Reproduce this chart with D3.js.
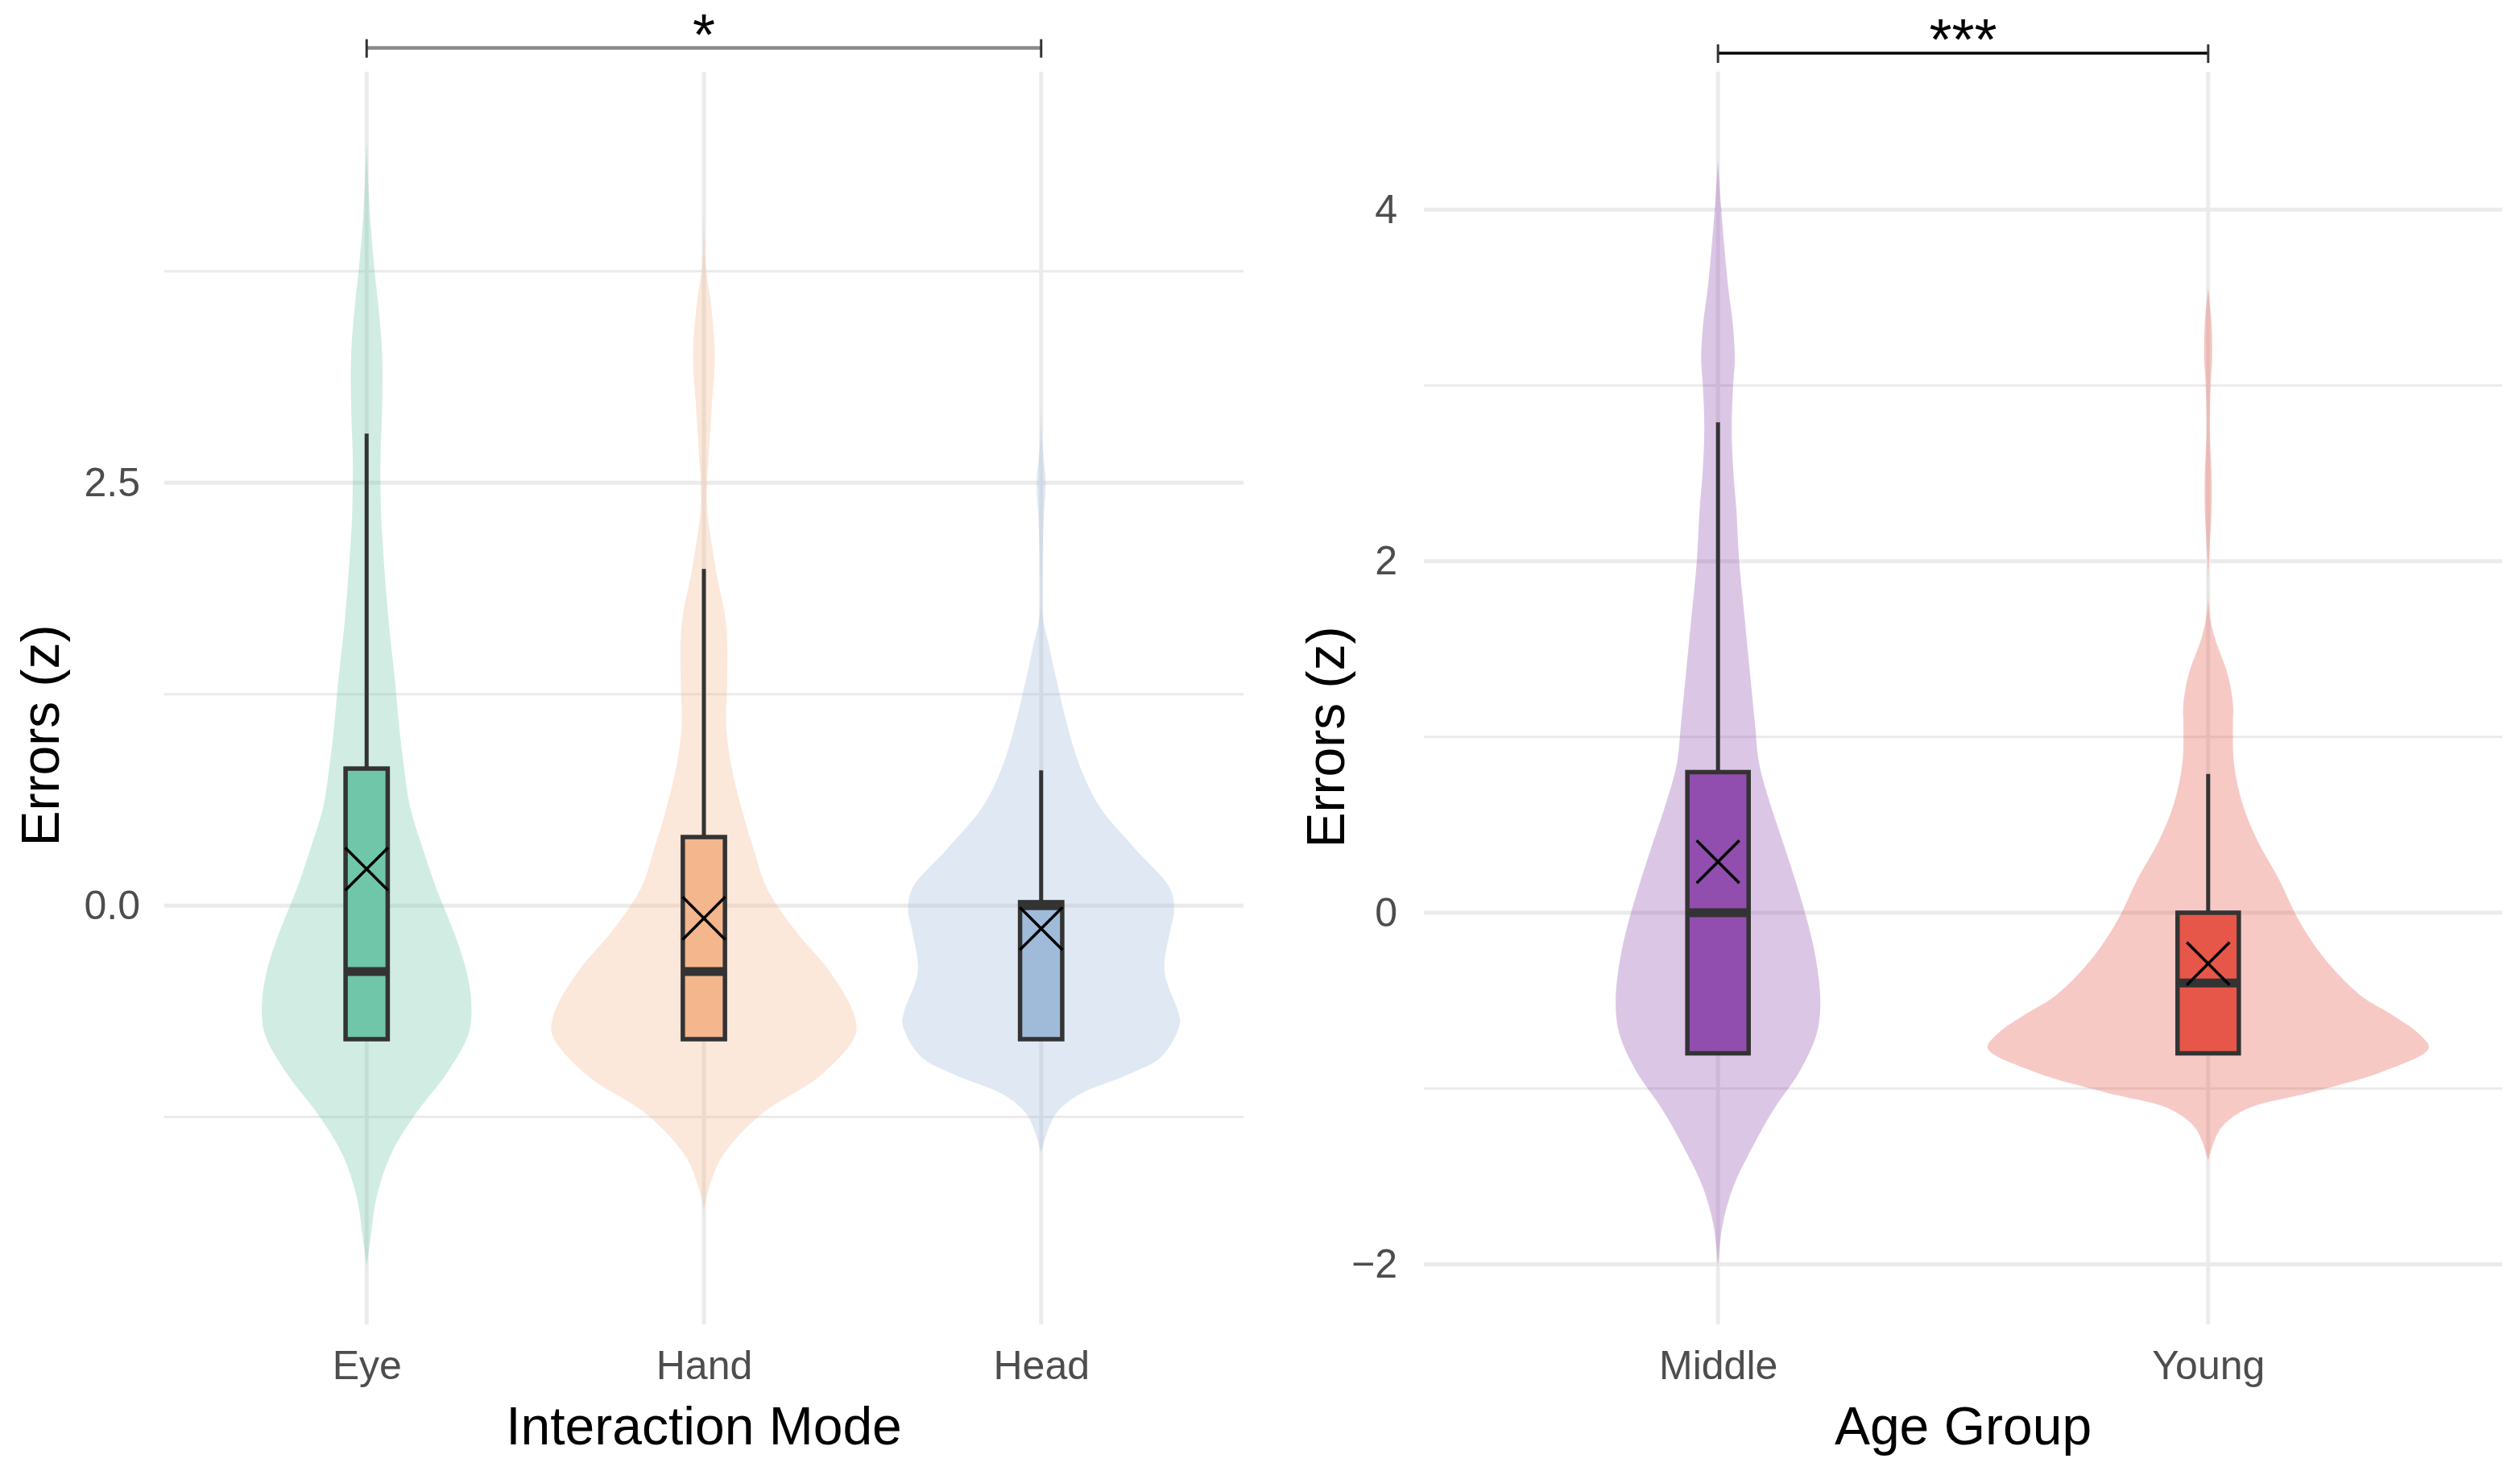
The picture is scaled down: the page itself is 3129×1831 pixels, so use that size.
<!DOCTYPE html>
<html>
<head>
<meta charset="utf-8">
<script src="https://cdn.jsdelivr.net/npm/d3@7"></script>
<style>
  html, body { margin: 0; padding: 0; background: #ffffff; }
  svg { display: block; font-family: "Liberation Sans", Arial, sans-serif; }
</style>
</head>
<body>
<svg id="chart" width="3129" height="1831"></svg>
<script>
// ---------------- DATA ----------------
const modes = ["Eye", "Hand", "Head"];
const modeColors = ["#70C6A8", "#F3B68D", "#A0BBDA"];
const modeQ1 = [-0.79, -0.79, -0.79];
const modeMedian = [-0.39, -0.39, 0.0];
const modeQ3 = [0.81, 0.405, 0.02];
const modeWhiskerLow = [-0.79, -0.79, -0.79];
const modeWhiskerHigh = [2.79, 1.99, 0.80];
const modeMean = [0.216, -0.075, -0.136];

// violin outlines: [value, relative density]
const eyeDensity = [[4.51,0],[4.10,.021],[3.75,.053],[3.57,.075],[3.26,.102],[2.94,.102],[2.62,.091],[2.30,.096],[1.98,.118],[1.66,.147],[1.33,.187],[1.06,.214],[0.82,.246],[0.58,.287],[0.34,.369],[0.10,.460],[-0.15,.572],[-0.39,.658],[-0.58,.690],[-0.76,.671],[-1.0,.521],[-1.24,.316],[-1.48,.155],[-1.73,.064],[-1.97,.025],[-2.13,0]];
const handDensity = [[4.08,0],[3.78,.012],[3.57,.045],[3.26,.072],[2.94,.051],[2.62,.029],[2.5,.021],[2.34,.021],[2.20,.041],[1.98,.080],[1.66,.147],[1.33,.153],[1.06,.147],[0.82,.182],[0.58,.246],[0.34,.326],[0.10,.417],[-0.15,.604],[-0.39,.829],[-0.63,.984],[-0.76,1.0],[-1.0,.775],[-1.24,.369],[-1.48,.123],[-1.65,.041],[-1.80,0]];
const headDensity = [[2.94,0],[2.72,.008],[2.5,.030],[2.30,.018],[1.98,.008],[1.71,.011],[1.54,.051],[1.33,.102],[1.06,.174],[0.82,.257],[0.58,.389],[0.34,.615],[0.10,.850],[-0.03,.877],[-0.15,.850],[-0.39,.813],[-0.63,.904],[-0.70,.914],[-0.89,.797],[-1.0,.572],[-1.12,.246],[-1.24,.091],[-1.46,0]];

const ages = ["Middle", "Young"];
const ageColors = ["#914EAE", "#E6574A"];
const ageQ1 = [-0.80, -0.80];
const ageMedian = [0.0, -0.40];
const ageQ3 = [0.80, 0.0];
const ageWhiskerLow = [-0.80, -0.80];
const ageWhiskerHigh = [2.79, 0.79];
const ageMean = [0.29, -0.29];

const middleDensity = [[4.28,0],[4.0,.015],[3.80,.028],[3.57,.045],[3.34,.068],[3.15,.076],[2.99,.068],[2.75,.062],[2.52,.069],[2.28,.084],[2.0,.096],[1.70,.119],[1.35,.146],[1.07,.168],[0.85,.186],[0.63,.234],[0.41,.292],[0.19,.349],[-0.03,.401],[-0.25,.442],[-0.51,.464],[-0.69,.447],[-0.905,.369],[-1.12,.252],[-1.34,.153],[-1.56,.069],[-1.78,.020],[-2.02,0]];
const youngDensity = [[3.55,0],[3.34,.016],[3.15,.018],[3.0,.011],[2.75,.007],[2.47,.016],[2.28,.015],[2.05,.005],[1.93,.001],[1.73,.004],[1.58,.026],[1.35,.090],[1.18,.113],[1.07,.112],[0.85,.117],[0.63,.153],[0.41,.223],[0.19,.321],[-0.03,.405],[-0.25,.520],[-0.47,.690],[-0.58,.832],[-0.69,.956],[-0.77,1.0],[-0.905,.788],[-1.02,.474],[-1.12,.168],[-1.23,.055],[-1.41,0]];

// axis ticks
const leftMajorTicks = [0, 2.5];
const leftTickLabels = ["0.0", "2.5"];
const leftMinorTicks = [-1.25, 1.25, 3.75];
const rightMajorTicks = [-2, 0, 2, 4];
const rightTickLabels = ["\u22122", "0", "2", "4"];
const rightMinorTicks = [-1, 1, 3];

// significance annotations
const leftSig = { from: "Eye", to: "Head", label: "*", y: 5.07 };
const rightSig = { from: "Middle", to: "Young", label: "***", y: 4.89 };

// ---------------- DRAW ----------------
const svg = d3.select("#chart");
svg.append("rect").attr("width", 3129).attr("height", 1831).attr("fill", "#ffffff");

const panelTop = 89, panelBottom = 1644;

function drawPanel(o) {
  const x = d3.scalePoint().domain(o.cats).range([o.x0, o.x1]).padding(0.6);
  const y = d3.scaleLinear().domain(o.ydom).range([panelBottom, panelTop]);
  const step = x.step();
  const w = d3.scaleLinear().domain([0, 1]).range([0, 0.45 * step]);
  const boxHalf = 0.0625 * step;
  const g = svg.append("g");

  // grid
  g.selectAll(".gminor").data(o.minor).join("line")
    .attr("x1", o.x0).attr("x2", o.x1)
    .attr("y1", d => y(d)).attr("y2", d => y(d))
    .attr("stroke", "#ebebeb").attr("stroke-width", 3);
  g.selectAll(".gmajor").data(o.major).join("line")
    .attr("x1", o.x0).attr("x2", o.x1)
    .attr("y1", d => y(d)).attr("y2", d => y(d))
    .attr("stroke", "#ebebeb").attr("stroke-width", 5);
  g.selectAll(".gvert").data(o.cats).join("line")
    .attr("x1", d => x(d)).attr("x2", d => x(d))
    .attr("y1", panelTop).attr("y2", panelBottom)
    .attr("stroke", "#ebebeb").attr("stroke-width", 5);

  // y axis
  const ya = g.append("g").attr("transform", `translate(${o.x0},0)`)
    .call(d3.axisLeft(y).tickValues(o.major).tickFormat((d, i) => o.labels[i]).tickSize(0).tickPadding(o.ypad));
  ya.select(".domain").remove();
  ya.selectAll("text").attr("font-size", 50).attr("fill", "#4d4d4d")
    .attr("font-family", "Liberation Sans, Arial, sans-serif");

  // x axis
  const xa = g.append("g").attr("transform", `translate(0,${panelBottom})`)
    .call(d3.axisBottom(x).tickSize(0).tickPadding(32));
  xa.select(".domain").remove();
  xa.selectAll("text").attr("font-size", 50).attr("fill", "#4d4d4d")
    .attr("font-family", "Liberation Sans, Arial, sans-serif");

  // violins
  o.cats.forEach((c, i) => {
    const cx = x(c);
    const area = d3.area()
      .y(d => y(d[0]))
      .x0(d => cx - w(d[1]))
      .x1(d => cx + w(d[1]))
      .curve(d3.curveCatmullRom.alpha(0.5));
    g.append("path").datum(o.dens[i]).attr("d", area)
      .attr("fill", o.colors[i]).attr("fill-opacity", 0.32).attr("stroke", "none");
  });

  // boxes
  o.cats.forEach((c, i) => {
    const cx = x(c);
    g.append("line").attr("x1", cx).attr("x2", cx)
      .attr("y1", y(o.q3[i])).attr("y2", y(o.wh[i]))
      .attr("stroke", "#333333").attr("stroke-width", 5);
    g.append("line").attr("x1", cx).attr("x2", cx)
      .attr("y1", y(o.q1[i])).attr("y2", y(o.wl[i]))
      .attr("stroke", "#333333").attr("stroke-width", 5);
    g.append("rect")
      .attr("x", cx - boxHalf).attr("width", 2 * boxHalf)
      .attr("y", y(o.q3[i])).attr("height", y(o.q1[i]) - y(o.q3[i]))
      .attr("fill", o.colors[i]).attr("stroke", "#333333").attr("stroke-width", 5.5);
    g.append("line")
      .attr("x1", cx - boxHalf).attr("x2", cx + boxHalf)
      .attr("y1", y(o.med[i])).attr("y2", y(o.med[i]))
      .attr("stroke", "#333333").attr("stroke-width", 11);
    g.append("path")
      .attr("transform", `translate(${cx},${y(o.mean[i])})`)
      .attr("d", d3.symbol().type(d3.symbolX).size(1840)())
      .attr("fill", "none").attr("stroke", "#000000").attr("stroke-width", 3.5);
  });

  // significance bar
  const s = o.sig;
  const sx1 = x(s.from), sx2 = x(s.to), sy = y(s.y);
  g.append("line").attr("x1", sx1).attr("x2", sx2).attr("y1", sy).attr("y2", sy)
    .attr("stroke", o.sigColor).attr("stroke-width", o.sigWidth);
  [sx1, sx2].forEach(px => {
    g.append("line").attr("x1", px).attr("x2", px).attr("y1", sy - 11).attr("y2", sy + 12)
      .attr("stroke", "#333333").attr("stroke-width", 3);
  });
  g.append("text").attr("x", (sx1 + sx2) / 2).attr("y", sy + o.starDy)
    .attr("text-anchor", "middle").attr("font-size", 72).attr("fill", "#000")
    .text(s.label);

  // titles
  g.append("text").attr("x", (o.x0 + o.x1) / 2).attr("y", 1793)
    .attr("text-anchor", "middle").attr("font-size", 66).attr("fill", "#000")
    .text(o.xtitle);
  g.append("text").attr("transform", `translate(${o.ytx},${o.yty}) rotate(-90)`)
    .attr("text-anchor", "middle").attr("font-size", 66).attr("fill", "#000")
    .text("Errors (z)");
}

drawPanel({
  cats: modes, x0: 204, x1: 1544, ydom: [-2.476, 4.93],
  major: leftMajorTicks, labels: leftTickLabels, minor: leftMinorTicks, ypad: 30,
  colors: modeColors, dens: [eyeDensity, handDensity, headDensity],
  q1: modeQ1, med: modeMedian, q3: modeQ3, wl: modeWhiskerLow, wh: modeWhiskerHigh, mean: modeMean,
  sig: leftSig, sigColor: "#8a8a8a", sigWidth: 4.5, starDy: 8,
  xtitle: "Interaction Mode", ytx: 73, yty: 913
});

drawPanel({
  cats: ages, x0: 1768, x1: 3107, ydom: [-2.342, 4.785],
  major: rightMajorTicks, labels: rightTickLabels, minor: rightMinorTicks, ypad: 33,
  colors: ageColors, dens: [middleDensity, youngDensity],
  q1: ageQ1, med: ageMedian, q3: ageQ3, wl: ageWhiskerLow, wh: ageWhiskerHigh, mean: ageMean,
  sig: rightSig, sigColor: "#000000", sigWidth: 3.5, starDy: 8,
  xtitle: "Age Group", ytx: 1669, yty: 915
});
</script>
</body>
</html>
